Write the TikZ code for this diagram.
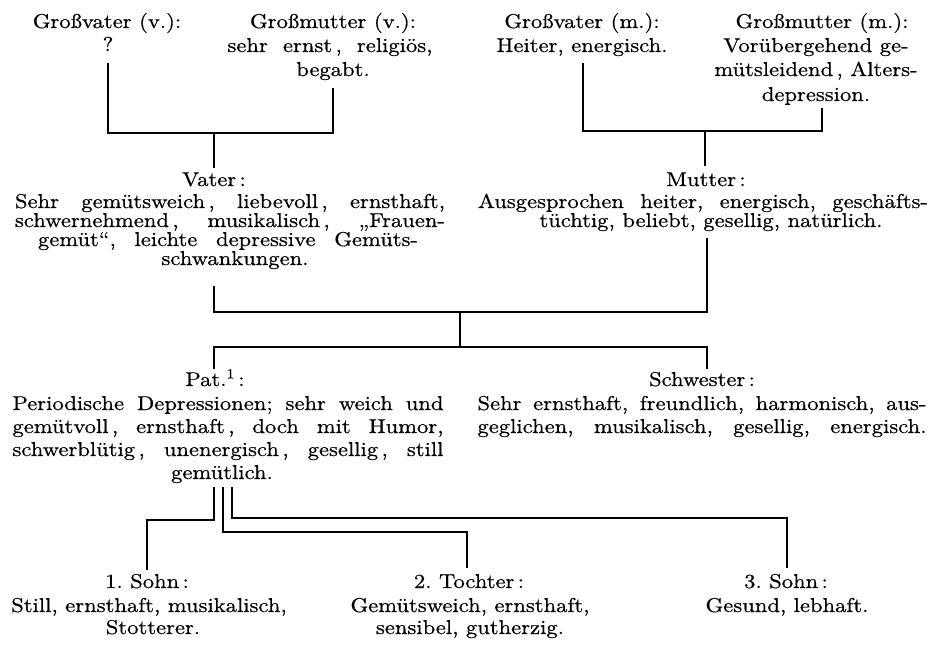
\documentclass[tikz,border=0pt]{standalone}
\usepackage{fontspec}
\setmainfont{lmroman10-regular.otf}[FakeStretch=1.13, FakeBold=0.6]
\newcommand\J[2]{\makebox[#1pt][s]{#2}}
\frenchspacing
\tikzset{
  txt/.style={inner sep=0pt, anchor=base, font=\fontsize{20}{20}\selectfont},
  conn/.style={line width=2pt, line join=miter, line cap=butt},
}
\begin{document}
\begin{tikzpicture}[x=1pt,y=-1pt]
\useasboundingbox (0,0) rectangle (935,650);
% grandparents (father's side)
\node[txt] (gvv)  at (107,28) {Großvater (v.):};
\node[txt] (gvvq) at (108,51) {?};
\node[txt] (gmv)  at (333,28) {Großmutter (v.):};
\node[txt] (gmv1) at (330,52) {\J{205}{sehr ernst\,, religiös,}};
\node[txt] (gmv2) at (333,76) {begabt.};
% grandparents (mother's side)
\node[txt] (gvm)  at (582,28) {Großvater (m.):};
\node[txt] (gvm1) at (582,52) {Heiter, energisch.};
\node[txt] (gmm)  at (822,28) {Großmutter (m.):};
\node[txt] (gmm1) at (816,52) {Vorübergehend ge-};
\node[txt] (gmm2) at (816,76) {mütsleidend\,, Alters-};
\node[txt] (gmm3) at (816,101) {depression.};
% parents
\node[txt] (vater) at (214,186) {Vater\,:};
\node[txt] (v1) at (230,208) {\J{430}{Sehr gemütsweich\,, liebevoll\,, ernsthaft,}};
\node[txt] (v2) at (230,227) {\J{430}{schwernehmend\,, musikalisch\,, „Frauen-}};
\node[txt] (v3) at (228,246) {\J{380}{gemüt“, leichte depressive Gemüts-}};
\node[txt] (v4) at (235,265) {schwankungen.};
\node[txt] (mutter) at (706,186) {Mutter\,:};
\node[txt] (m1) at (703,208) {\J{450}{Ausgesprochen heiter, energisch, geschäfts-}};
\node[txt] (m2) at (711,227) {tüchtig, beliebt, gesellig, natürlich.};
% patient and sister
\node[txt] (pat) at (215,386) {Pat.\textsuperscript{1}\,:};
\node[txt] (p1) at (228,410) {\J{431}{Periodische Depressionen; sehr weich und}};
\node[txt] (p2) at (228,433) {\J{431}{gemütvoll\,, ernsthaft\,, doch mit Humor,}};
\node[txt] (p3) at (228,456) {\J{431}{schwerblütig\,, unenergisch\,, gesellig\,, still}};
\node[txt] (p4) at (222,479) {gemütlich.};
\node[txt] (schw) at (702,386) {Schwester\,:};
\node[txt] (s1) at (702,410) {\J{449}{Sehr ernsthaft, freundlich, harmonisch, aus-}};
\node[txt] (s2) at (702,433) {\J{449}{geglichen, musikalisch, gesellig, energisch.}};
% children
\node[txt] (c1)  at (147,588) {1. Sohn\,:};
\node[txt] (c1a) at (149,612) {Still, ernsthaft, musikalisch,};
\node[txt] (c1b) at (153,634) {Stotterer.};
\node[txt] (c2)  at (469,588) {2. Tochter\,:};
\node[txt] (c2a) at (470,612) {Gemütsweich, ernsthaft,};
\node[txt] (c2b) at (470,634) {sensibel, gutherzig.};
\node[txt] (c3)  at (786,588) {3. Sohn\,:};
\node[txt] (c3a) at (787,612) {Gesund, lebhaft.};
% connector points
\coordinate (gvvB) at (108,63);
\coordinate (gmvB) at (333,88);
\coordinate (vJ)   at (214,133);
\coordinate (vT)   at (214,168);
\coordinate (gvmB) at (583,63);
\coordinate (gmmB) at (822,108);
\coordinate (mJ)   at (705,131);
\coordinate (mT)   at (705,166);
\coordinate (vB)   at (214,286);
\coordinate (mB)   at (707,238);
\coordinate (vmJ)  at (460,312);
\coordinate (psJ)  at (460,347);
\coordinate (pT)   at (214,369);
\coordinate (sT)   at (707,369);
\coordinate (pB1)  at (214,487);
\coordinate (pB2)  at (223,487);
\coordinate (pB3)  at (232,487);
\coordinate (c1T)  at (147,570);
\coordinate (c2T)  at (467,568);
\coordinate (c3T)  at (787,568);
% connectors
\draw[conn] (gvvB) |- (vJ) -| (gmvB);
\draw[conn] (vJ) -- (vT);
\draw[conn] (gvmB) |- (mJ) -| (gmmB);
\draw[conn] (mJ) -- (mT);
\draw[conn] (vB) |- (vmJ) -| (mB);
\draw[conn] (vmJ) -- (psJ);
\draw[conn] (pT) |- (psJ) -| (sT);
\draw[conn] (pB1) -- ++(0,33) -| (c1T);
\draw[conn] (pB2) -- ++(0,45) -| (c2T);
\draw[conn] (pB3) -- ++(0,31) -| (c3T);
\end{tikzpicture}
\end{document}
